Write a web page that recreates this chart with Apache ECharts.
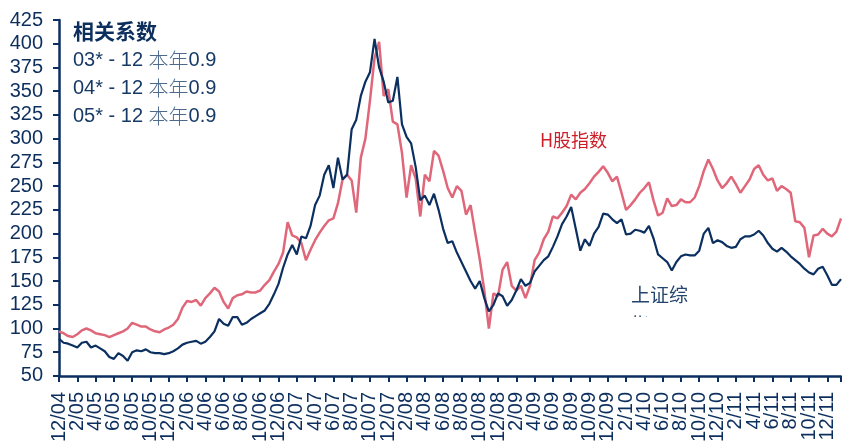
<!DOCTYPE html>
<html>
<head>
<meta charset="utf-8">
<script src="https://cdn.jsdelivr.net/npm/echarts@6/dist/echarts.min.js"></script>
<style>
html,body{margin:0;padding:0;background:#fff;}
#c{width:842px;height:445px;}
</style>
</head>
<body>
<div id="c"></div>
<script>
// x-axis tick labels (every 2 months)
const tickLabels = ['12/04','2/05','4/05','6/05','8/05','10/05','12/05','2/06','4/06','6/06','8/06','10/06','12/06','2/07','4/07','6/07','8/07','10/07','12/07','2/08','4/08','6/08','8/08','10/08','12/08','2/09','4/09','6/09','8/09','10/09','12/09','2/10','4/10','6/10','8/10','10/10','12/10','2/11','4/11','6/11','8/11','10/11','12/11'];

// H股指数 (rebased), half-monthly readings
const hShares = [97,95,92,91,94,98,100,98,95,94,93,91,93,95,97,100,106,104,102,102,
99,97,96,99,101,104,110,122,129,128,130,124,132,137,143,139,128,121,132,135,
136,139,138,138,140,146,151,160,168,180,212,198,196,190,172,183,193,201,208,214,
216,232,257,262,256,222,280,300,340,385,402,345,352,318,315,285,238,272,258,218,
262,255,287,282,266,248,238,250,245,220,230,201,173,140,100,137,134,162,170,145,
140,145,132,145,172,180,194,202,218,216,222,229,241,236,243,247,253,260,265,271,
264,255,260,243,225,230,236,243,248,254,235,219,222,237,229,230,236,233,233,238,
250,266,278,268,256,248,253,260,252,243,250,257,268,272,262,256,258,245,250,247,
243,213,212,206,175,198,199,205,200,197,202,216];

// 上证综指 (rebased), half-monthly readings
const shComp = [89,85,84,82,80,85,86,80,82,79,76,70,68,74,71,66,75,77,76,78,
75,74,74,73,74,76,79,83,85,86,87,84,86,91,97,110,105,103,112,112,
104,106,110,113,116,119,126,136,147,164,178,188,178,197,195,208,230,240,262,272,
248,280,257,262,310,320,345,360,370,405,375,360,338,340,365,315,302,295,270,235,
240,230,242,225,205,190,192,180,170,160,150,142,150,132,118,125,137,134,124,130,
140,152,145,148,160,166,172,176,186,197,210,218,228,205,182,194,187,200,207,221,
220,215,211,215,199,200,204,203,201,208,195,178,174,170,161,170,176,178,177,177,
182,200,206,190,193,191,187,185,186,194,197,197,199,203,198,190,184,181,185,181,
176,172,168,163,159,157,163,165,156,146,146,152];

// legend lines
const corrTitle = '相关系数';
const corrRows = [['03* - 12 ', '本年', '0.9'], ['04* - 12 ', '本年', '0.9'], ['05* - 12 ', '本年', '0.9']];

// half-month category stamps starting Dec 2004
const categories = [];
for (let i = 0; i < hShares.length; i++) {
  const m = 11 + Math.floor(i / 2);
  const y = 2004 + Math.floor(m / 12);
  const mm = (m % 12) + 1;
  categories.push(y + '-' + (mm < 10 ? '0' : '') + mm + (i % 2 ? '-16' : '-01'));
}

const NAVY = '#0b2f5f';
const PINK = '#e0677a';
const LATIN = '"Liberation Sans", Arial, "Noto Sans CJK SC", sans-serif';

const chart = echarts.init(document.getElementById('c'));
const graphics = [
  {type:'text', left:73, top:21, z:10, style:{text:corrTitle, fill:'#0d2f5e', font:'bold 21px "Noto Sans CJK SC", sans-serif'}}
];
corrRows.forEach((r, k) => {
  graphics.push({type:'text', left:73, top:50 + k*28, z:10, style:{
    text:'{a|' + r[0] + '}{b|' + r[1] + '}{a|' + r[2] + '}',
    rich:{
      a:{fill:'#173a66', fontSize:20, fontFamily:LATIN},
      b:{fill:'#4d6a8c', fontSize:20, fontFamily:'"Noto Sans CJK SC", sans-serif', fontWeight:300}
    }
  }});
});
graphics.push({type:'text', left:540, top:131, z:10, style:{text:'H股指数', fill:'#cc1f2a', font:'18px "Noto Sans CJK SC", sans-serif'}});
graphics.push({type:'text', left:631, top:280, z:10, style:{text:'上证综\n指', fill:'#23466f', font:'19px "Noto Sans CJK SC", sans-serif', lineHeight:30}});
graphics.push({type:'rect', left:625, top:317, z:11, shape:{width:80, height:30}, style:{fill:'#ffffff'}});

chart.setOption({
  animation:false,
  backgroundColor:'#ffffff',
  grid:{left:59, right:1, top:20, bottom:68, containLabel:false},
  graphic:graphics,
  xAxis:{
    type:'category',
    data:categories,
    boundaryGap:false,
    axisLine:{lineStyle:{color:NAVY, width:2.5}},
    axisTick:{interval:3, length:6, lineStyle:{color:NAVY, width:2}},
    axisLabel:{
      interval:0, rotate:90, margin:16, color:'#0d2f5e', fontSize:20, fontFamily:LATIN,
      formatter:function(v, idx){ return idx % 4 === 0 ? (tickLabels[idx/4] || '') : ''; }
    },
    splitLine:{show:false}
  },
  yAxis:{
    type:'value', min:50, max:425, interval:25,
    axisLine:{show:true, lineStyle:{color:NAVY, width:2.5}},
    axisTick:{show:true, length:6, lineStyle:{color:NAVY, width:2}},
    axisLabel:{margin:16, color:'#0d2f5e', fontSize:20, fontFamily:LATIN, showMinLabel:true, showMaxLabel:true},
    splitLine:{show:false}
  },
  series:[
    {name:'H股指数', type:'line', data:hShares, symbol:'none', lineStyle:{color:PINK, width:2.5}, z:2},
    {name:'上证综指', type:'line', data:shComp, symbol:'none', lineStyle:{color:NAVY, width:2.2}, z:3}
  ]
});
</script>
</body>
</html>
